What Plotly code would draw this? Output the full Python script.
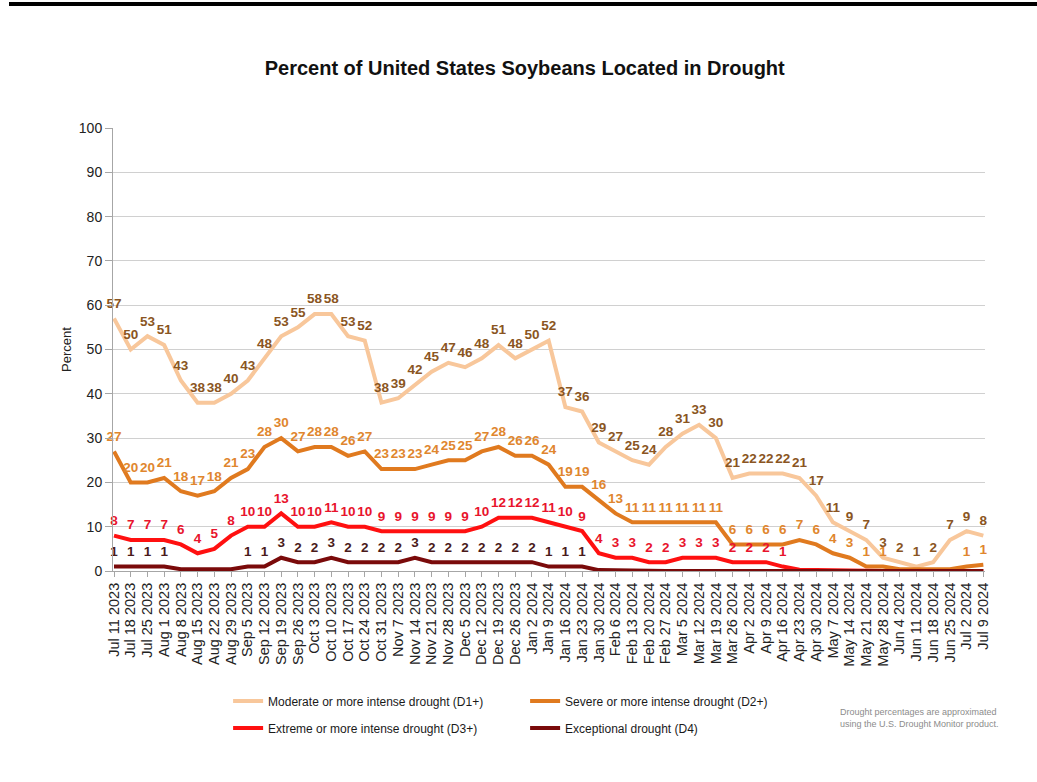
import plotly.graph_objects as go

dates = ["Jul 11 2023", "Jul 18 2023", "Jul 25 2023", "Aug 1 2023", "Aug 8 2023", "Aug 15 2023",
         "Aug 22 2023", "Aug 29 2023", "Sep 5 2023", "Sep 12 2023", "Sep 19 2023", "Sep 26 2023",
         "Oct 3 2023", "Oct 10 2023", "Oct 17 2023", "Oct 24 2023", "Oct 31 2023", "Nov 7 2023",
         "Nov 14 2023", "Nov 21 2023", "Nov 28 2023", "Dec 5 2023", "Dec 12 2023", "Dec 19 2023",
         "Dec 26 2023", "Jan 2 2024", "Jan 9 2024", "Jan 16 2024", "Jan 23 2024", "Jan 30 2024",
         "Feb 6 2024", "Feb 13 2024", "Feb 20 2024", "Feb 27 2024", "Mar 5 2024", "Mar 12 2024",
         "Mar 19 2024", "Mar 26 2024", "Apr 2 2024", "Apr 9 2024", "Apr 16 2024", "Apr 23 2024",
         "Apr 30 2024", "May 7 2024", "May 14 2024", "May 21 2024", "May 28 2024", "Jun 4 2024",
         "Jun 11 2024", "Jun 18 2024", "Jun 25 2024", "Jul 2 2024", "Jul 9 2024"]

d1 = [57, 50, 53, 51, 43, 38, 38, 40, 43, 48, 53, 55, 58, 58, 53, 52, 38, 39, 42, 45, 47, 46, 48,
      51, 48, 50, 52, 37, 36, 29, 27, 25, 24, 28, 31, 33, 30, 21, 22, 22, 22, 21, 17, 11, 9, 7, 3,
      2, 1, 2, 7, 9, 8]
d2 = [27, 20, 20, 21, 18, 17, 18, 21, 23, 28, 30, 27, 28, 28, 26, 27, 23, 23, 23, 24, 25, 25, 27,
      28, 26, 26, 24, 19, 19, 16, 13, 11, 11, 11, 11, 11, 11, 6, 6, 6, 6, 7, 6, 4, 3, 1, 1,
      0.4, 0.4, 0.4, 0.4, 1, 1.4]
d3 = [8, 7, 7, 7, 6, 4, 5, 8, 10, 10, 13, 10, 10, 11, 10, 10, 9, 9, 9, 9, 9, 9, 10, 12, 12, 12,
      11, 10, 9, 4, 3, 3, 2, 2, 3, 3, 3, 2, 2, 2, 1, 0.3, 0.2, 0.1, 0, 0, 0, 0, 0, 0, 0, 0, 0]
d4 = [1, 1, 1, 1, 0.4, 0.3, 0.4, 0.4, 1, 1, 3, 2, 2, 3, 2, 2, 2, 2, 3, 2, 2, 2, 2, 2, 2, 2, 1,
      1, 1, 0.2, 0.1, 0, 0, 0, 0, 0, 0, 0, 0, 0, 0, 0, 0, 0, 0, 0, 0, 0, 0, 0, 0, 0, 0]

names = ["Moderate or more intense drought (D1+)", "Severe or more intense drought (D2+)",
         "Extreme or more intense drought (D3+)", "Exceptional drought (D4)"]
line_colors = ["#f8c79b", "#e07a1f", "#ff1010", "#7a0a0a"]
label_colors = ["#8a5522", "#e0862e", "#e8142c", "#4a1a1a"]
legend_ids = ["legend", "legend", "legend2", "legend2"]
series = [d1, d2, d3, d4]

xs = list(range(len(dates)))
fig = go.Figure()
for vals, name, lc, lg in zip(series, names, line_colors, legend_ids):
    fig.add_trace(go.Scatter(
        x=xs, y=vals, name=name, mode="lines", legend=lg,
        line=dict(color=lc, width=4), cliponaxis=False, hoverinfo="skip"))
for vals, tc in zip(series, label_colors):
    texts = [str(int(round(v))) if round(v) > 0 else "" for v in vals]
    fig.add_trace(go.Scatter(
        x=xs, y=vals, mode="markers+text", showlegend=False,
        marker=dict(size=10, opacity=0), text=texts, textposition="top center",
        textfont=dict(family="Liberation Sans, Arial", size=13.5, color=tc, weight="bold"),
        cliponaxis=False, hoverinfo="skip"))

legend_common = dict(orientation="h", x=0.132, xanchor="left", yanchor="middle",
                     entrywidth=252, itemwidth=30,
                     font=dict(size=12, family="Liberation Sans, Arial", color="#1a1a1a"))

fig.update_layout(
    width=1037, height=782,
    margin=dict(l=113, r=52, t=128, b=211),
    paper_bgcolor="white", plot_bgcolor="white",
    font=dict(family="Liberation Sans, Arial", color="#222222"),
    title=dict(text="<b>Percent of United States Soybeans Located in Drought</b>",
               x=0.506, xanchor="center", y=1 - 68 / 782, yanchor="middle",
               font=dict(size=20, color="#111111")),
    showlegend=True,
    legend=dict(y=(571 - 701) / 443, **legend_common),
    legend2=dict(y=(571 - 728) / 443, **legend_common),
)
fig.update_xaxes(
    tickmode="array", tickvals=xs, ticktext=dates,
    tickangle=-90, range=[-0.06, 52.1], showgrid=False, showline=True,
    linecolor="#a6a6a6", linewidth=1, ticks="outside", ticklen=5, tickcolor="#a6a6a6",
    tickfont=dict(size=14.5, color="#222"), zeroline=False,
)
fig.update_yaxes(
    range=[0, 100], dtick=10, showgrid=True, gridcolor="#d0d0d0", gridwidth=1,
    showline=True, linecolor="#a6a6a6", linewidth=1, ticks="outside", ticklen=7,
    tickcolor="#a6a6a6", tickfont=dict(size=14, color="#222"), zeroline=False,
    title=dict(text="Percent", font=dict(size=13, color="#222"), standoff=4),
)

fig.add_annotation(
    text="Drought percentages are approximated<br>using the U.S. Drought Monitor product.",
    xref="paper", yref="paper", x=(838 - 113) / 872, y=(571 - 718) / 443,
    xanchor="left", yanchor="middle", align="left", showarrow=False,
    font=dict(size=9, color="#8c8c8c", family="Liberation Sans, Arial"))

fig.add_shape(type="line", xref="paper", yref="paper",
              x0=(9 - 113) / 872, x1=(1037 - 113) / 872,
              y0=(571 - 4) / 443, y1=(571 - 4) / 443,
              line=dict(color="black", width=4))

fig.write_html("out.html", config={"displayModeBar": False},
               post_script="document.body.style.margin='0';")
